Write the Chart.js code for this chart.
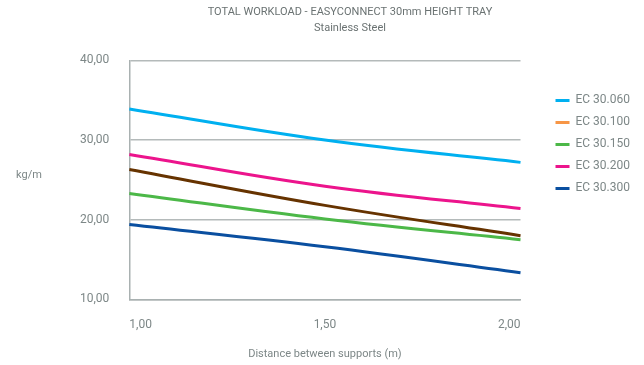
<!DOCTYPE html>
<html lang="en">
  <head>
    <meta charset="UTF-8" />
    <title>Total workload - EasyConnect 30mm height tray</title>
    <script src="https://cdn.jsdelivr.net/npm/chart.js"></script>
    <style>
      html, body { margin: 0; padding: 0; background: #fff; }
      #wrap { width: 644px; height: 365px; }
    </style>
  </head>
  <body>
    <div id="wrap"><canvas id="workloadChart"></canvas></div>

    <script>
      // === Data ===
      const xLabels = ["1,00", "1,50", "2,00"];
      const ec060 = [33.9, 30.0, 27.2];
      const ec100 = [26.3, 21.8, 18.0];
      const ec150 = [23.3, 20.1, 17.5];
      const ec200 = [28.2, 24.2, 21.4];
      const ec300 = [19.4, 16.6, 13.35];
      const seriesNames = ["EC 30.060", "EC 30.100", "EC 30.150", "EC 30.200", "EC 30.300"];
      const yTicks = [10, 20, 30, 40];

      const lineColors = ["#00b0f0", "#663300", "#4cb848", "#ec148c", "#0a4fa0"];
      const legendColors = ["#00b0f0", "#f79646", "#4cb848", "#ec148c", "#0a4fa0"];
      const grey = "#7d8787";
      const font = "Roboto, 'DejaVu Sans', sans-serif";

      const seriesValues = [ec060, ec100, ec150, ec200, ec300];

      // kg/m label, horizontal, left of the y axis
      const yUnitLabel = {
        id: "yUnitLabel",
        afterDraw(chart) {
          const ctx = chart.ctx;
          ctx.save();
          ctx.fillStyle = grey;
          ctx.font = "11px " + font;
          ctx.textAlign = "center";
          ctx.textBaseline = "middle";
          ctx.fillText("kg/m", 29, 175);
          ctx.restore();
        },
      };

      // empty box between plot and legend
      const legendGap = {
        id: "legendGap",
        beforeInit(chart) {
          Chart.layouts.addBox(chart, {
            position: "right",
            weight: 500,
            fullSize: false,
            options: {},
            left: 0, top: 0, right: 0, bottom: 0, width: 0, height: 0,
            update(maxWidth, maxHeight) {
              this.width = 25;
              this.height = maxHeight;
            },
            getPadding() { return { top: 0, left: 0, right: 0, bottom: 0 }; },
            isHorizontal() { return false; },
            draw() {},
          });
        },
      };

      new Chart(document.getElementById("workloadChart"), {
        type: "line",
        data: {
          labels: xLabels,
          datasets: seriesNames.map((name, i) => ({
            label: name,
            data: seriesValues[i],
            borderColor: lineColors[i],
            backgroundColor: lineColors[i],
            borderWidth: 3,
            pointRadius: 0,
            tension: 0.4,
            fill: false,
          })),
        },
        options: {
          responsive: true,
          maintainAspectRatio: false,
          animation: false,
          layout: { padding: { left: 60, top: 4, right: 4, bottom: 4 } },
          plugins: {
            title: {
              display: true,
              text: "TOTAL WORKLOAD - EASYCONNECT 30mm HEIGHT TRAY",
              color: "#6a7272",
              font: { family: font, size: 11, weight: "normal" },
              padding: { top: 2, bottom: 2 },
            },
            subtitle: {
              display: true,
              text: "Stainless Steel",
              color: "#6a7272",
              font: { family: font, size: 11, weight: "normal" },
              padding: { top: 0, bottom: 26 },
            },
            legend: {
              position: "right",
              align: "start",
              title: { display: true, text: "", padding: { top: 66 } },
              labels: {
                color: grey,
                font: { family: font, size: 12 },
                usePointStyle: true,
                pointStyle: "line",
                pointStyleWidth: 14,
                padding: 10,
                generateLabels: (chart) =>
                  chart.data.datasets.map((ds, i) => ({
                    text: ds.label,
                    fillStyle: legendColors[i],
                    strokeStyle: legendColors[i],
                    lineWidth: 3,
                    pointStyle: "line",
                    fontColor: grey,
                    datasetIndex: i,
                    hidden: false,
                  })),
              },
            },
            tooltip: { enabled: false },
          },
          scales: {
            x: {
              type: "category",
              offset: false,
              grid: { display: false },
              border: { display: true, color: "#a9b1b1", width: 1.5 },
              ticks: {
                align: "inner",
                color: grey,
                font: { family: font, size: 12 },
                padding: 10,
                maxRotation: 0,
              },
              title: {
                display: true,
                text: "Distance between supports (m)",
                color: grey,
                font: { family: font, size: 11 },
                padding: { top: 6, bottom: 0 },
              },
            },
            y: {
              min: 10,
              max: 40,
              afterBuildTicks: (scale) => {
                scale.ticks = yTicks.map((v) => ({ value: v }));
              },
              grid: { color: "#b4baba", lineWidth: 1.5, drawTicks: false },
              border: { display: true, color: "#a9b1b1", width: 1.5 },
              ticks: {
                color: grey,
                font: { family: font, size: 12 },
                padding: 20,
                callback: (v) => Number(v).toFixed(2).replace(".", ","),
              },
            },
          },
        },
        plugins: [yUnitLabel, legendGap],
      });
    </script>
  </body>
</html>
